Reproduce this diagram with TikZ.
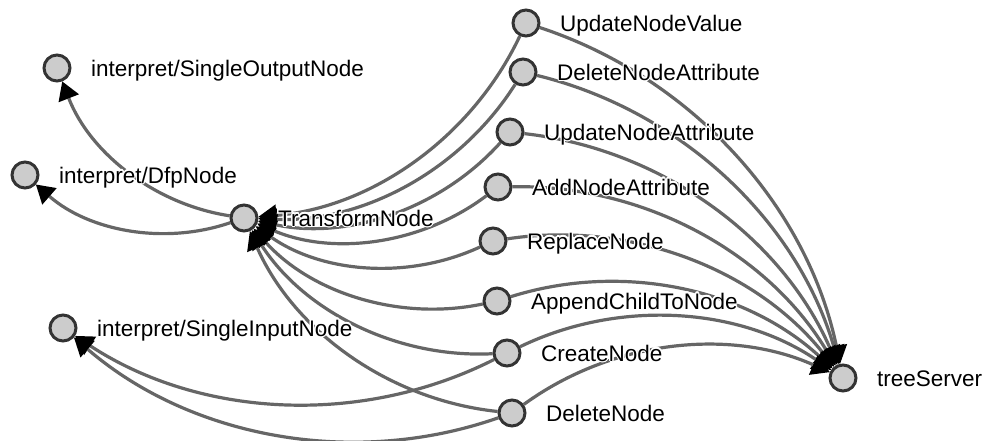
\documentclass[tikz,border=0pt]{standalone}
\usepackage{fontspec}
\setmainfont{Liberation Sans}
\usepackage[copies]{contour}
\contourlength{1.2pt}
\contournumber{16}
\usetikzlibrary{arrows.meta,backgrounds}
\definecolor{edgec}{HTML}{666666}
\definecolor{nodefill}{HTML}{CCCCCC}
\definecolor{nodeline}{HTML}{333333}
\newcommand{\halo}[1]{\contour{white}{#1}}
\begin{document}
\begin{tikzpicture}[x=1pt,y=-1pt,
  vtx/.style={circle, fill=nodefill, draw=nodeline, line width=3pt, minimum size=26pt, inner sep=0pt},
  lbl/.style={anchor=base west, font=\fontsize{22.5}{27}\selectfont, inner sep=0pt, text=black},
  link/.style={draw=edgec, line width=3.2pt, -{Triangle[length=18pt,width=22pt,color=black,line width=0pt]}, bend left=30, looseness=0.91}]
\useasboundingbox (0,0) rectangle (985,440);
% nodes
\node[vtx] (so)   at (57,68)   {};
\node[vtx] (dfp)  at (25,175)  {};
\node[vtx] (tf)   at (244,218) {};
\node[vtx] (si)   at (63,328)  {};
\node[vtx] (unv)  at (526,23)  {};
\node[vtx] (dna)  at (523,72)  {};
\node[vtx] (una)  at (510,132) {};
\node[vtx] (ana)  at (498,187) {};
\node[vtx] (rn)   at (493,241) {};
\node[vtx] (actn) at (497,301) {};
\node[vtx] (cn)   at (507,353) {};
\node[vtx] (dn)   at (512,413) {};
\node[vtx] (ts)   at (843,378) {};
% edges
\begin{pgfonlayer}{background}
\foreach \m in {unv,dna,una,ana,rn,actn,cn,dn}{
  \draw[link] (\m) to (tf);
  \draw[link] (\m) to (ts);
}
\draw[link] (tf) to (so);
\draw[link] (tf) to (dfp);
\draw[link] (cn) to (si);
\draw[link] (dn) to (si);
\end{pgfonlayer}
% labels
\node[lbl] (tso)   at ([xshift=34pt,yshift=-8pt]so.center)   {\halo{interpret/SingleOutputNode}};
\node[lbl] (tdfp)  at ([xshift=34pt,yshift=-8pt]dfp.center)  {\halo{interpret/DfpNode}};
\node[lbl] (ttf)   at ([xshift=34pt,yshift=-8pt]tf.center)   {\halo{TransformNode}};
\node[lbl] (tsi)   at ([xshift=34pt,yshift=-8pt]si.center)   {\halo{interpret/SingleInputNode}};
\node[lbl] (tunv)  at ([xshift=34pt,yshift=-8pt]unv.center)  {\halo{UpdateNodeValue}};
\node[lbl] (tdna)  at ([xshift=34pt,yshift=-8pt]dna.center)  {\halo{DeleteNodeAttribute}};
\node[lbl] (tuna)  at ([xshift=34pt,yshift=-8pt]una.center)  {\halo{UpdateNodeAttribute}};
\node[lbl] (tana)  at ([xshift=34pt,yshift=-8pt]ana.center)  {\halo{AddNodeAttribute}};
\node[lbl] (trn)   at ([xshift=34pt,yshift=-8pt]rn.center)   {\halo{ReplaceNode}};
\node[lbl] (tactn) at ([xshift=34pt,yshift=-8pt]actn.center) {\halo{AppendChildToNode}};
\node[lbl] (tcn)   at ([xshift=34pt,yshift=-8pt]cn.center)   {\halo{CreateNode}};
\node[lbl] (tdn)   at ([xshift=34pt,yshift=-8pt]dn.center)   {\halo{DeleteNode}};
\node[lbl] (tts)   at ([xshift=34pt,yshift=-8pt]ts.center)   {\halo{treeServer}};
\end{tikzpicture}
\end{document}
